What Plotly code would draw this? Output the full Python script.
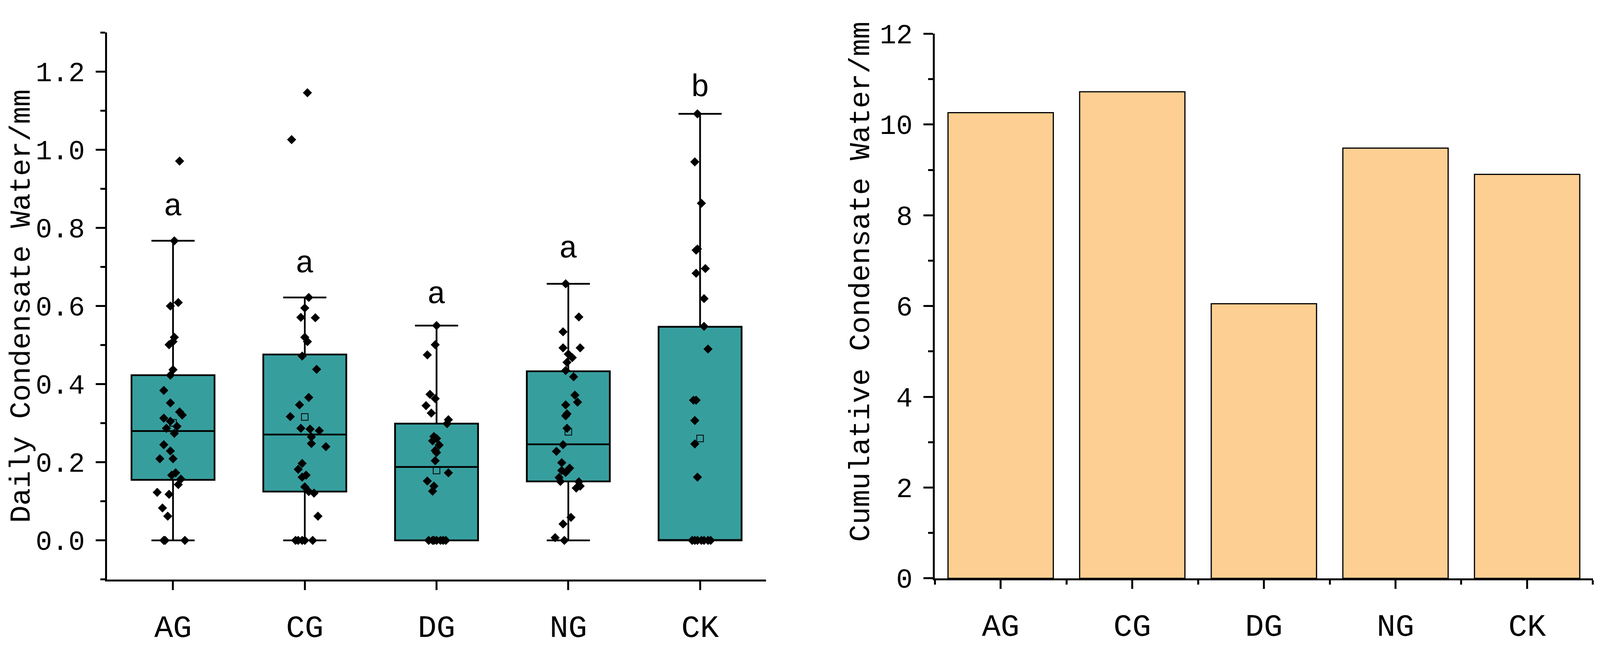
import plotly.graph_objects as go

# groups
groups = ["AG", "CG", "DG", "NG", "CK"]
positions = [1, 2, 3, 4, 5]

# box statistics
q1 = [0.155, 0.125, 0.0, 0.151, 0.0]
median = [0.280, 0.271, 0.188, 0.246, 0.0]
q3 = [0.423, 0.476, 0.299, 0.433, 0.547]
lower_whisker = [0.0, 0.0, 0.0, 0.0, 0.0]
upper_whisker = [0.767, 0.622, 0.550, 0.657, 1.092]
means = [0.301, 0.316, 0.179, 0.278, 0.261]

# daily values (points) and their horizontal jitter, per group
ag_vals = [0.971, 0.767, 0.609, 0.600, 0.520, 0.509, 0.501, 0.437, 0.423, 0.384, 0.352,
           0.329, 0.321, 0.313, 0.305, 0.292, 0.287, 0.274, 0.245, 0.229, 0.209, 0.209,
           0.173, 0.167, 0.157, 0.143, 0.123, 0.118, 0.083, 0.062, 0.0, 0.0, 0.0]
ag_jit = [0.05, 0.01, 0.04, -0.02, 0.01, 0.0, -0.03, 0.0, -0.02, -0.07, -0.02,
          0.05, 0.07, -0.07, -0.02, 0.03, -0.05, 0.01, -0.07, -0.02, -0.10, 0.0,
          0.02, -0.01, 0.06, 0.04, -0.12, -0.03, -0.08, -0.04, -0.07, -0.06, 0.09]

cg_vals = [1.146, 1.026, 0.622, 0.595, 0.571, 0.570, 0.520, 0.509, 0.472, 0.438, 0.366,
           0.347, 0.317, 0.287, 0.285, 0.281, 0.265, 0.248, 0.240, 0.197, 0.182, 0.167,
           0.162, 0.137, 0.125, 0.121, 0.062, 0.0, 0.0, 0.0, 0.0, 0.0]
cg_jit = [0.02, -0.10, 0.03, 0.0, -0.03, 0.08, 0.0, 0.02, -0.02, 0.09, 0.03,
          -0.04, -0.11, -0.03, 0.04, 0.11, 0.05, 0.05, 0.16, -0.02, -0.05, 0.01,
          -0.02, 0.0, 0.03, 0.07, 0.10, -0.07, -0.05, -0.02, 0.0, 0.06]

dg_vals = [0.550, 0.501, 0.475, 0.374, 0.363, 0.345, 0.326, 0.309, 0.299, 0.266, 0.261,
           0.255, 0.244, 0.230, 0.225, 0.204, 0.173, 0.152, 0.139, 0.126,
           0.0, 0.0, 0.0, 0.0, 0.0, 0.0, 0.0]
dg_jit = [0.0, -0.01, -0.07, -0.05, -0.01, -0.08, -0.04, 0.09, 0.08, -0.02, 0.0,
          -0.03, 0.02, -0.01, 0.0, -0.01, 0.09, -0.07, -0.02, -0.03,
          -0.06, -0.03, -0.02, 0.0, 0.03, 0.05, 0.07]

ng_vals = [0.657, 0.572, 0.534, 0.493, 0.493, 0.477, 0.468, 0.456, 0.435, 0.419, 0.372,
           0.354, 0.347, 0.324, 0.319, 0.287, 0.245, 0.228, 0.199, 0.185, 0.179, 0.174,
           0.161, 0.151, 0.150, 0.139, 0.134, 0.059, 0.042, 0.007, 0.0]
ng_jit = [-0.02, 0.08, -0.04, -0.04, 0.09, 0.0, 0.03, -0.01, -0.02, 0.04, 0.05,
          0.07, -0.02, -0.01, -0.02, -0.01, -0.04, -0.09, -0.05, 0.01, -0.05, -0.02,
          -0.07, -0.06, 0.08, 0.09, 0.06, 0.02, -0.04, -0.10, -0.03]

ck_vals = [1.092, 0.969, 0.863, 0.746, 0.743, 0.696, 0.684, 0.619, 0.548, 0.490, 0.359,
           0.359, 0.307, 0.247, 0.162, 0.0, 0.0, 0.0, 0.0, 0.0, 0.0, 0.0]
ck_jit = [-0.02, -0.04, 0.01, -0.02, -0.03, 0.04, -0.03, 0.03, 0.03, 0.06, -0.05,
          -0.03, -0.04, -0.04, -0.02, -0.06, -0.04, -0.02, 0.01, 0.03, 0.06, 0.08]

# significance letters
sig_letters = ["a", "a", "a", "a", "b"]
sig_y = [0.853, 0.707, 0.628, 0.745, 1.158]

# cumulative condensate water (right panel)
cumulative = [10.26, 10.72, 6.05, 9.48, 8.90]

FONT = "Liberation Mono"
TITLE_FS = 74
XTICK_FS = 80
YTICK_FS = 70
TEAL = "#379e9e"
ORANGE = "#fecf92"

fig = go.Figure()

fig.add_trace(go.Box(
    x=positions, q1=q1, median=median, q3=q3,
    lowerfence=lower_whisker, upperfence=upper_whisker,
    width=0.63, whiskerwidth=0.52,
    fillcolor=TEAL, line=dict(color="black", width=4.5),
    boxpoints=False, showlegend=False, hoverinfo="skip",
    xaxis="x", yaxis="y",
))

point_sets = [(ag_vals, ag_jit), (cg_vals, cg_jit), (dg_vals, dg_jit),
              (ng_vals, ng_jit), (ck_vals, ck_jit)]
for pos, (vals, jit) in zip(positions, point_sets):
    fig.add_trace(go.Scatter(
        x=[pos + j for j in jit], y=vals, mode="markers",
        marker=dict(symbol="diamond", size=18, color="black", line=dict(width=0)),
        showlegend=False, xaxis="x", yaxis="y",
    ))

# mean markers
fig.add_trace(go.Scatter(
    x=positions, y=means, mode="markers",
    marker=dict(symbol="square-open", size=17, color="black", line=dict(width=2)),
    showlegend=False, xaxis="x", yaxis="y",
))

fig.add_trace(go.Scatter(
    x=positions, y=sig_y, mode="text", text=sig_letters,
    textposition="middle center",
    textfont=dict(family=FONT, size=XTICK_FS, color="black"),
    showlegend=False, xaxis="x", yaxis="y",
))

fig.add_trace(go.Bar(
    x=positions, y=cumulative, width=0.8,
    marker=dict(color=ORANGE, line=dict(color="black", width=3)),
    showlegend=False, xaxis="x2", yaxis="y2",
))

axis_common = dict(
    showline=True, linecolor="black", linewidth=5,
    ticks="outside", tickcolor="black", tickwidth=4.5,
    showgrid=False, zeroline=False,
)
xfont = dict(family=FONT, size=XTICK_FS, color="black")
yfont = dict(family=FONT, size=YTICK_FS, color="black")

fig.update_layout(
    autosize=True, height=1667,
    margin=dict(l=0, r=0, t=0, b=0),
    paper_bgcolor="white", plot_bgcolor="white",
    xaxis=dict(axis_common, domain=[0.06696, 0.47873], range=[0.5, 5.5],
               tickvals=positions, ticktext=groups, ticklen=22, tickfont=xfont,
               ticklabelstandoff=24, anchor="y"),
    yaxis=dict(axis_common, domain=[0.08638, 0.96821], range=[-0.1, 1.3],
               tick0=0, dtick=0.2, tickformat=".1f", ticklen=24, tickfont=yfont,
               ticklabelstandoff=14,
               minor=dict(dtick=0.1, tick0=0, ticks="outside", ticklen=12,
                          tickwidth=4.5, tickcolor="black", showgrid=False),
               anchor="x"),
    xaxis2=dict(axis_common, domain=[0.58428, 0.99558], range=[0.5, 5.5],
                tickvals=positions, ticktext=groups, ticklen=22, tickfont=xfont,
                ticklabelstandoff=24,
                minor=dict(tickvals=[0.5, 1.5, 2.5, 3.5, 4.5, 5.5], ticks="outside",
                           ticklen=11, tickwidth=4.5, tickcolor="black", showgrid=False),
                anchor="y2"),
    yaxis2=dict(axis_common, domain=[0.08818, 0.96641], range=[0, 12],
                tick0=0, dtick=2, ticklen=24, tickfont=yfont, ticklabelstandoff=14,
                minor=dict(dtick=1, tick0=0, ticks="outside", ticklen=12,
                           tickwidth=4.5, tickcolor="black", showgrid=False),
                anchor="x2"),
    annotations=[
        dict(text="Daily Condensate Water/mm", xref="paper", yref="paper",
             x=58 / 4301, y=1 - 788 / 1667, textangle=-90, showarrow=False,
             xanchor="center", yanchor="middle",
             font=dict(family=FONT, size=TITLE_FS, color="black")),
        dict(text="Cumulative Condensate Water/mm", xref="paper", yref="paper",
             x=2315 / 4301, y=1 - 723 / 1667, textangle=-90, showarrow=False,
             xanchor="center", yanchor="middle",
             font=dict(family=FONT, size=TITLE_FS, color="black")),
    ],
)

# drop the page margin and let the figure take the full window width
fig.write_html(
    "out.html",
    config={"displayModeBar": False},
    post_script="document.body.style.margin='0';"
                "Plotly.Plots.resize(document.getElementById('{plot_id}'));",
)
